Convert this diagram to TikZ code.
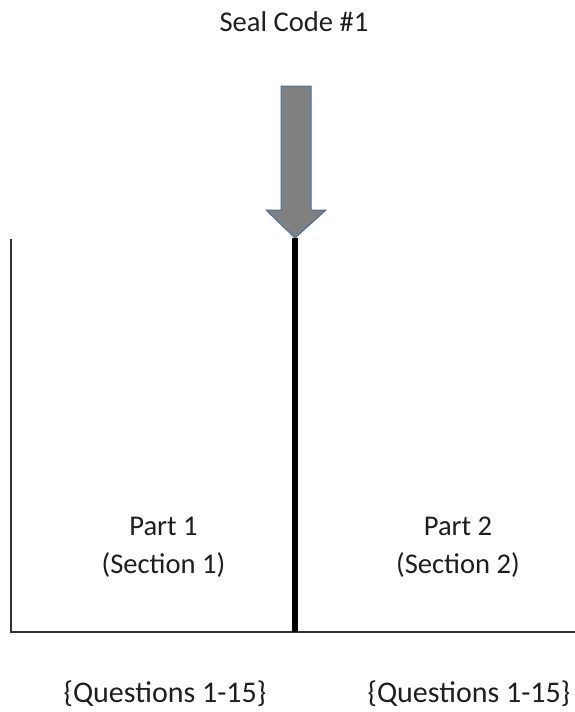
\documentclass[tikz,border=0pt]{standalone}
\usepackage{fontspec}
\setmainfont{Carlito}
\definecolor{arrowfill}{RGB}{128,128,128}
\definecolor{arrowline}{RGB}{65,113,156}
\definecolor{txt}{RGB}{30,30,30}
\begin{document}
\begin{tikzpicture}[x=1pt,y=-1pt,
  lbl/.style={anchor=base,inner sep=0pt,text=txt,font=\fontsize{28.6}{34}\selectfont},
  qlbl/.style={lbl,font=\fontsize{30}{36}\selectfont},
  divider/.style={line width=6pt,black},
  frameline/.style={line width=1.6pt,black!80}]
\useasboundingbox (0,0) rectangle (575,712);
\node[lbl] (seal) at (294,31) {Seal Code \#1};
\draw[fill=arrowfill,draw=arrowline,line width=1pt,line join=miter]
  (281,86) -- (311,86) -- (311,210) -- (326,210) -- (295,238) -- (266,210) -- (281,210) -- cycle;
\coordinate (tip) at (295,238);
\coordinate (lt) at (11,239);
\coordinate (lb) at (11,632);
\coordinate (mb) at (295,632);
\coordinate (rb) at (575,632);
\draw[frameline] (lt) -- (lb) -- (rb);
\draw[divider] (tip) -- (mb);
\node[lbl] (p1) at (163.5,535) {Part 1};
\node[lbl] (s1) at (163.5,573) {(Section 1)};
\node[lbl] (p2) at (458,535) {Part 2};
\node[lbl] (s2) at (458,573) {(Section 2)};
\node[qlbl] (q1) at (165,702) {\{Questions 1-15\}};
\node[qlbl] (q2) at (469,702) {\{Questions 1-15\}};
\end{tikzpicture}
\end{document}
